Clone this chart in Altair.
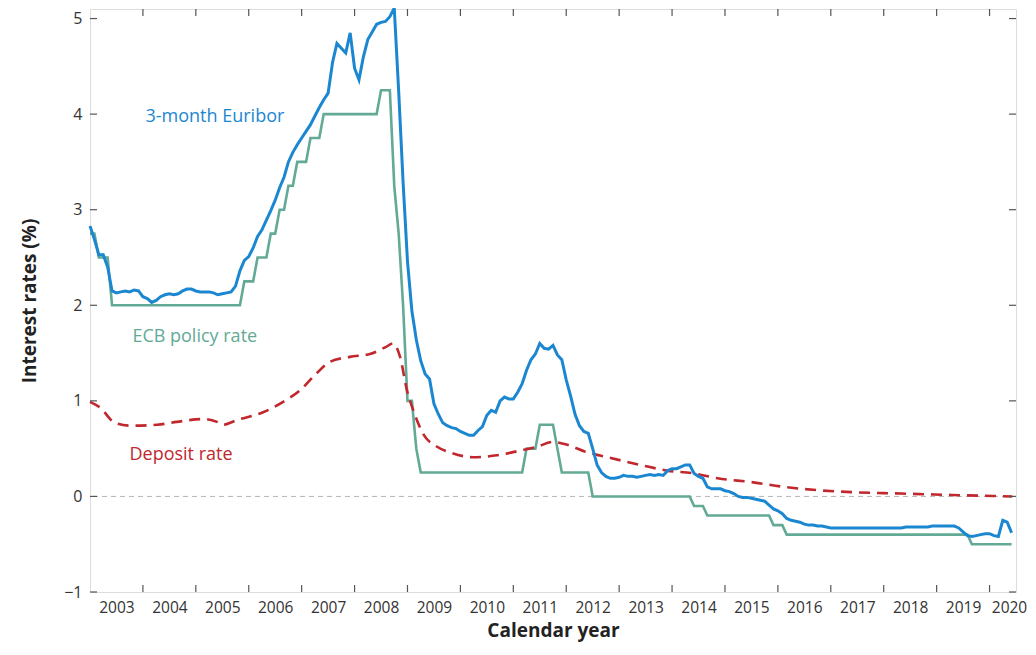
import altair as alt
import pandas as pd

# ---------------- data (monthly, Jan 2003 - Jun 2020) ----------------
start_year = 2003

euribor = [
    2.83, 2.69, 2.53, 2.53, 2.40, 2.15, 2.13, 2.14, 2.15, 2.14, 2.16, 2.15,   # 2003
    2.09, 2.07, 2.03, 2.05, 2.09, 2.11, 2.12, 2.11, 2.12, 2.15, 2.17, 2.17,   # 2004
    2.15, 2.14, 2.14, 2.14, 2.13, 2.11, 2.12, 2.13, 2.14, 2.20, 2.36, 2.47,   # 2005
    2.51, 2.60, 2.72, 2.79, 2.89, 2.99, 3.10, 3.23, 3.34, 3.50, 3.60, 3.68,   # 2006
    3.75, 3.82, 3.89, 3.98, 4.07, 4.15, 4.22, 4.54, 4.74, 4.69, 4.64, 4.85,   # 2007
    4.48, 4.36, 4.60, 4.78, 4.86, 4.94, 4.96, 4.97, 5.02, 5.11, 4.24, 3.29,   # 2008
    2.46, 1.94, 1.64, 1.42, 1.28, 1.23, 0.97, 0.86, 0.77, 0.74, 0.72, 0.71,   # 2009
    0.68, 0.66, 0.64, 0.64, 0.69, 0.73, 0.85, 0.90, 0.88, 1.00, 1.04, 1.02,   # 2010
    1.02, 1.09, 1.18, 1.32, 1.43, 1.49, 1.60, 1.55, 1.54, 1.58, 1.48, 1.43,   # 2011
    1.22, 1.05, 0.86, 0.74, 0.68, 0.66, 0.50, 0.33, 0.25, 0.21, 0.19, 0.19,   # 2012
    0.20, 0.22, 0.21, 0.21, 0.20, 0.21, 0.22, 0.23, 0.22, 0.23, 0.22, 0.27,   # 2013
    0.29, 0.29, 0.31, 0.33, 0.33, 0.24, 0.21, 0.19, 0.10, 0.08, 0.08, 0.08,   # 2014
    0.06, 0.05, 0.03, 0.00, -0.01, -0.01, -0.02, -0.03, -0.04, -0.05, -0.09, -0.13,  # 2015
    -0.15, -0.18, -0.23, -0.25, -0.26, -0.27, -0.29, -0.30, -0.30, -0.31, -0.31, -0.32,  # 2016
    -0.33, -0.33, -0.33, -0.33, -0.33, -0.33, -0.33, -0.33, -0.33, -0.33, -0.33, -0.33,  # 2017
    -0.33, -0.33, -0.33, -0.33, -0.33, -0.32, -0.32, -0.32, -0.32, -0.32, -0.32, -0.31,  # 2018
    -0.31, -0.31, -0.31, -0.31, -0.31, -0.33, -0.37, -0.41, -0.42, -0.41, -0.40, -0.39,  # 2019
    -0.39, -0.41, -0.42, -0.25, -0.27, -0.38,                                  # 2020
]

policy_rate = [
    2.75, 2.75, 2.50, 2.50, 2.50, 2.00, 2.00, 2.00, 2.00, 2.00, 2.00, 2.00,   # 2003
    2.00, 2.00, 2.00, 2.00, 2.00, 2.00, 2.00, 2.00, 2.00, 2.00, 2.00, 2.00,   # 2004
    2.00, 2.00, 2.00, 2.00, 2.00, 2.00, 2.00, 2.00, 2.00, 2.00, 2.00, 2.25,   # 2005
    2.25, 2.25, 2.50, 2.50, 2.50, 2.75, 2.75, 3.00, 3.00, 3.25, 3.25, 3.50,   # 2006
    3.50, 3.50, 3.75, 3.75, 3.75, 4.00, 4.00, 4.00, 4.00, 4.00, 4.00, 4.00,   # 2007
    4.00, 4.00, 4.00, 4.00, 4.00, 4.00, 4.25, 4.25, 4.25, 3.25, 2.75, 2.00,   # 2008
    1.00, 1.00, 0.50, 0.25, 0.25, 0.25, 0.25, 0.25, 0.25, 0.25, 0.25, 0.25,   # 2009
    0.25, 0.25, 0.25, 0.25, 0.25, 0.25, 0.25, 0.25, 0.25, 0.25, 0.25, 0.25,   # 2010
    0.25, 0.25, 0.25, 0.50, 0.50, 0.50, 0.75, 0.75, 0.75, 0.75, 0.50, 0.25,   # 2011
    0.25, 0.25, 0.25, 0.25, 0.25, 0.25, 0.00, 0.00, 0.00, 0.00, 0.00, 0.00,   # 2012
    0.00, 0.00, 0.00, 0.00, 0.00, 0.00, 0.00, 0.00, 0.00, 0.00, 0.00, 0.00,   # 2013
    0.00, 0.00, 0.00, 0.00, 0.00, -0.10, -0.10, -0.10, -0.20, -0.20, -0.20, -0.20,  # 2014
    -0.20, -0.20, -0.20, -0.20, -0.20, -0.20, -0.20, -0.20, -0.20, -0.20, -0.20, -0.30,  # 2015
    -0.30, -0.30, -0.40, -0.40, -0.40, -0.40, -0.40, -0.40, -0.40, -0.40, -0.40, -0.40,  # 2016
    -0.40, -0.40, -0.40, -0.40, -0.40, -0.40, -0.40, -0.40, -0.40, -0.40, -0.40, -0.40,  # 2017
    -0.40, -0.40, -0.40, -0.40, -0.40, -0.40, -0.40, -0.40, -0.40, -0.40, -0.40, -0.40,  # 2018
    -0.40, -0.40, -0.40, -0.40, -0.40, -0.40, -0.40, -0.40, -0.50, -0.50, -0.50, -0.50,  # 2019
    -0.50, -0.50, -0.50, -0.50, -0.50, -0.50,                                  # 2020
]

deposit_t = [2003.00, 2003.19, 2003.47, 2003.76, 2004.27, 2004.64, 2005.14, 2005.40,
             2005.51, 2005.78, 2006.27, 2006.65, 2006.97, 2007.25, 2007.54, 2007.91,
             2008.29, 2008.58, 2008.73, 2008.86, 2008.99, 2009.11, 2009.29, 2009.56,
             2009.81, 2010.24, 2010.69, 2011.13, 2011.45, 2011.75, 2012.02, 2012.40,
             2012.70, 2013.40, 2013.91, 2014.42, 2014.86, 2015.50, 2016.12, 2016.76,
             2017.39, 2018.33, 2019.29, 2020.43]
deposit_v = [0.99, 0.93, 0.77, 0.74, 0.75, 0.78, 0.81, 0.78,
             0.75, 0.80, 0.88, 0.99, 1.11, 1.27, 1.41, 1.46,
             1.49, 1.56, 1.60, 1.46, 1.11, 0.90, 0.66, 0.52,
             0.46, 0.41, 0.43, 0.48, 0.52, 0.57, 0.54, 0.46,
             0.42, 0.33, 0.27, 0.24, 0.19, 0.15, 0.10, 0.065,
             0.045, 0.03, 0.015, 0.0]

label_years = list(range(2003, 2021))
tick_years = list(range(2004, 2021))
y_ticks = [-1, 0, 1, 2, 3, 4, 5]

series_labels = ["3-month Euribor", "ECB policy rate", "Deposit rate"]
series_label_t = [2005.36, 2004.98, 2004.72]
series_label_v = [3.97, 1.67, 0.43]

# ---------------- styling ----------------
BLUE = "#1c87d1"
GREEN = "#62aa95"
RED = "#c1272d"
AXIS = "#555555"
FONT = "Open Sans"
W, H = 926, 583

months_t = [start_year + i / 12 for i in range(len(euribor))]
df_eur = pd.DataFrame({"t": months_t, "v": euribor})
df_pol = pd.DataFrame({"t": months_t[:len(policy_rate)], "v": policy_rate})
df_dep = pd.DataFrame({"t": deposit_t, "v": deposit_v})
df_lab = pd.DataFrame({"t": series_label_t, "v": series_label_v,
                       "text": series_labels, "c": [BLUE, GREEN, RED]})

xs = alt.Scale(domain=[2003, 2020.5], nice=False, zero=False)
ys = alt.Scale(domain=[-1, 5.1], nice=False, zero=False)

x_axis = alt.Axis(values=[y + 0.5 for y in label_years], labelExpr="floor(datum.value)",
                  ticks=False, domain=False, grid=False, labelFontSize=15.5, labelColor="#333333",
                  labelFont=FONT, labelPadding=8, labelOverlap=False, labelFlush=False,
                  labelBound=False,
                  labelOffset={"condition": {"test": "datum.value > 2020", "value": -7},
                               "value": 0},
                  title="Calendar year", titleFont=FONT,
                  titleFontSize=19, titleFontWeight="bold", titleColor="#222222", titlePadding=6)
y_axis = alt.Axis(values=y_ticks, ticks=False, domain=False, grid=False, labelFontSize=16,
                  labelColor="#333333", labelFont=FONT, labelPadding=8, labelOverlap=False,
                  title="Interest rates (%)", titleFont=FONT, titleFontSize=19,
                  titleFontWeight="bold", titleColor="#222222", titlePadding=24)


def X(field="t"):
    return alt.X(f"{field}:Q", scale=xs, axis=x_axis)


def Y(field="v"):
    return alt.Y(f"{field}:Q", scale=ys, axis=y_axis)


zero = alt.Chart(pd.DataFrame({"v": [0]})).mark_rule(
    color="#b5b5b5", strokeDash=[5, 4], strokeWidth=1
).encode(y=Y())

pol = alt.Chart(df_pol).mark_line(color=GREEN, strokeWidth=2.6).encode(x=X(), y=Y())
dep = alt.Chart(df_dep).mark_line(color=RED, strokeWidth=2.6, strokeDash=[11, 7],
                                  interpolate="monotone").encode(x=X(), y=Y())
eur = alt.Chart(df_eur).mark_line(color=BLUE, strokeWidth=3).encode(x=X(), y=Y())

tick_style = dict(color=AXIS, strokeWidth=1.2)
df_xt = pd.DataFrame({"t": tick_years})
df_yt = pd.DataFrame({"v": y_ticks})
xt_bottom = alt.Chart(df_xt).mark_rule(**tick_style).encode(
    x=X(), y=alt.value(H), y2=alt.value(H - 7))
xt_top = alt.Chart(df_xt).mark_rule(**tick_style).encode(
    x=X(), y=alt.value(0), y2=alt.value(7))
yt_left = alt.Chart(df_yt).mark_rule(**tick_style).encode(
    y=Y(), x=alt.value(0), x2=alt.value(7))
yt_right = alt.Chart(df_yt).mark_rule(**tick_style).encode(
    y=Y(), x=alt.value(W), x2=alt.value(W - 7))

labels = alt.Chart(df_lab).mark_text(font=FONT, fontSize=18, align="center",
                                     baseline="middle").encode(
    x=X(), y=Y(), text="text:N", color=alt.Color("c:N", scale=None))

chart = alt.layer(zero, pol, dep, eur, xt_bottom, xt_top, yt_left, yt_right, labels).properties(
    width=W, height=H,
    autosize=alt.AutoSizeParams(type="none"),
    padding={"left": 82, "top": 1, "right": 12, "bottom": 55},
).configure_view(stroke=AXIS, strokeWidth=1.2).configure(background="white")

chart.save("out.html", embed_options={"renderer": "svg", "actions": False})
